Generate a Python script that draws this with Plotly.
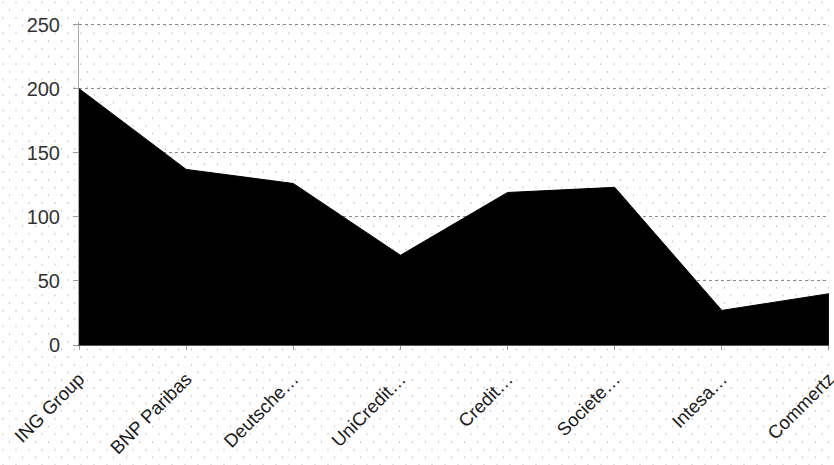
import base64
import plotly.graph_objects as go

categories = ["ING Group", "BNP Paribas", "Deutsche…", "UniCredit…", "Credit…", "Societe…", "Intesa…", "Commertz"]
values = [200, 137, 126, 70, 119, 123, 27, 40]
y_ticks = [0, 50, 100, 150, 200, 250]

W, H = 834, 465
Y_TOP = 252
ML, MR, MB = 79, 5, 120
MT = 25 - 320 * (Y_TOP - 250) / 250
PW, PH = W - ML - MR, H - MT - MB

svg = (
    f'<svg xmlns="http://www.w3.org/2000/svg" width="{W}" height="{H}">'
    '<defs><pattern id="p" width="13" height="15.4" patternUnits="userSpaceOnUse">'
    '<circle cx="3" cy="3" r="0.75" fill="#b8b8b8"/>'
    '<circle cx="9.5" cy="10.7" r="0.75" fill="#b8b8b8"/>'
    '</pattern></defs>'
    f'<rect width="{W}" height="{H}" fill="url(#p)"/></svg>'
)
src = "data:image/svg+xml;base64," + base64.b64encode(svg.encode()).decode()

x_idx = list(range(len(categories)))

fig = go.Figure()
fig.add_trace(go.Scatter(
    x=x_idx, y=values, mode="lines", fill="tozeroy",
    fillcolor="black", line=dict(color="black", width=1),
    hoverinfo="skip", showlegend=False,
))

fig.update_layout(
    width=W, height=H,
    margin=dict(l=ML, r=MR, t=MT, b=MB, pad=0, autoexpand=False),
    paper_bgcolor="white",
    plot_bgcolor="rgba(0,0,0,0)",
    font=dict(family="Liberation Sans, Arial, sans-serif", size=17, color="#333"),
    images=[dict(
        source=src, xref="paper", yref="paper",
        x=-ML / PW, y=1 + MT / PH, sizex=W / PW, sizey=H / PH,
        xanchor="left", yanchor="top", sizing="stretch", layer="below",
    )],
    xaxis=dict(
        range=[-0.0005, len(categories) - 1 + 0.0005],
        tickmode="array", tickvals=x_idx, ticktext=categories,
        tickangle=-45, showgrid=False, zeroline=False, automargin=False,
        ticklabeloverflow="allow", ticklabelstandoff=11,
        showline=True, linecolor="#555", linewidth=1,
        ticks="outside", ticklen=4, tickcolor="#999",
        tickfont=dict(size=18.5, color="#1a1a1a"),
    ),
    yaxis=dict(
        range=[0, Y_TOP], tickvals=y_ticks, automargin=False,
        showgrid=True, gridcolor="#8a8a8a", griddash="dot", gridwidth=1,
        zeroline=False, showline=True, linecolor="#aaa",
        ticks="outside", ticklen=5, tickcolor="#999", ticklabelstandoff=9,
        tickfont=dict(size=20, color="#333"),
    ),
)

fig.write_html(
    "out.html",
    config={"displayModeBar": False},
    post_script="document.body.style.margin='0';document.body.style.overflow='hidden';",
)
